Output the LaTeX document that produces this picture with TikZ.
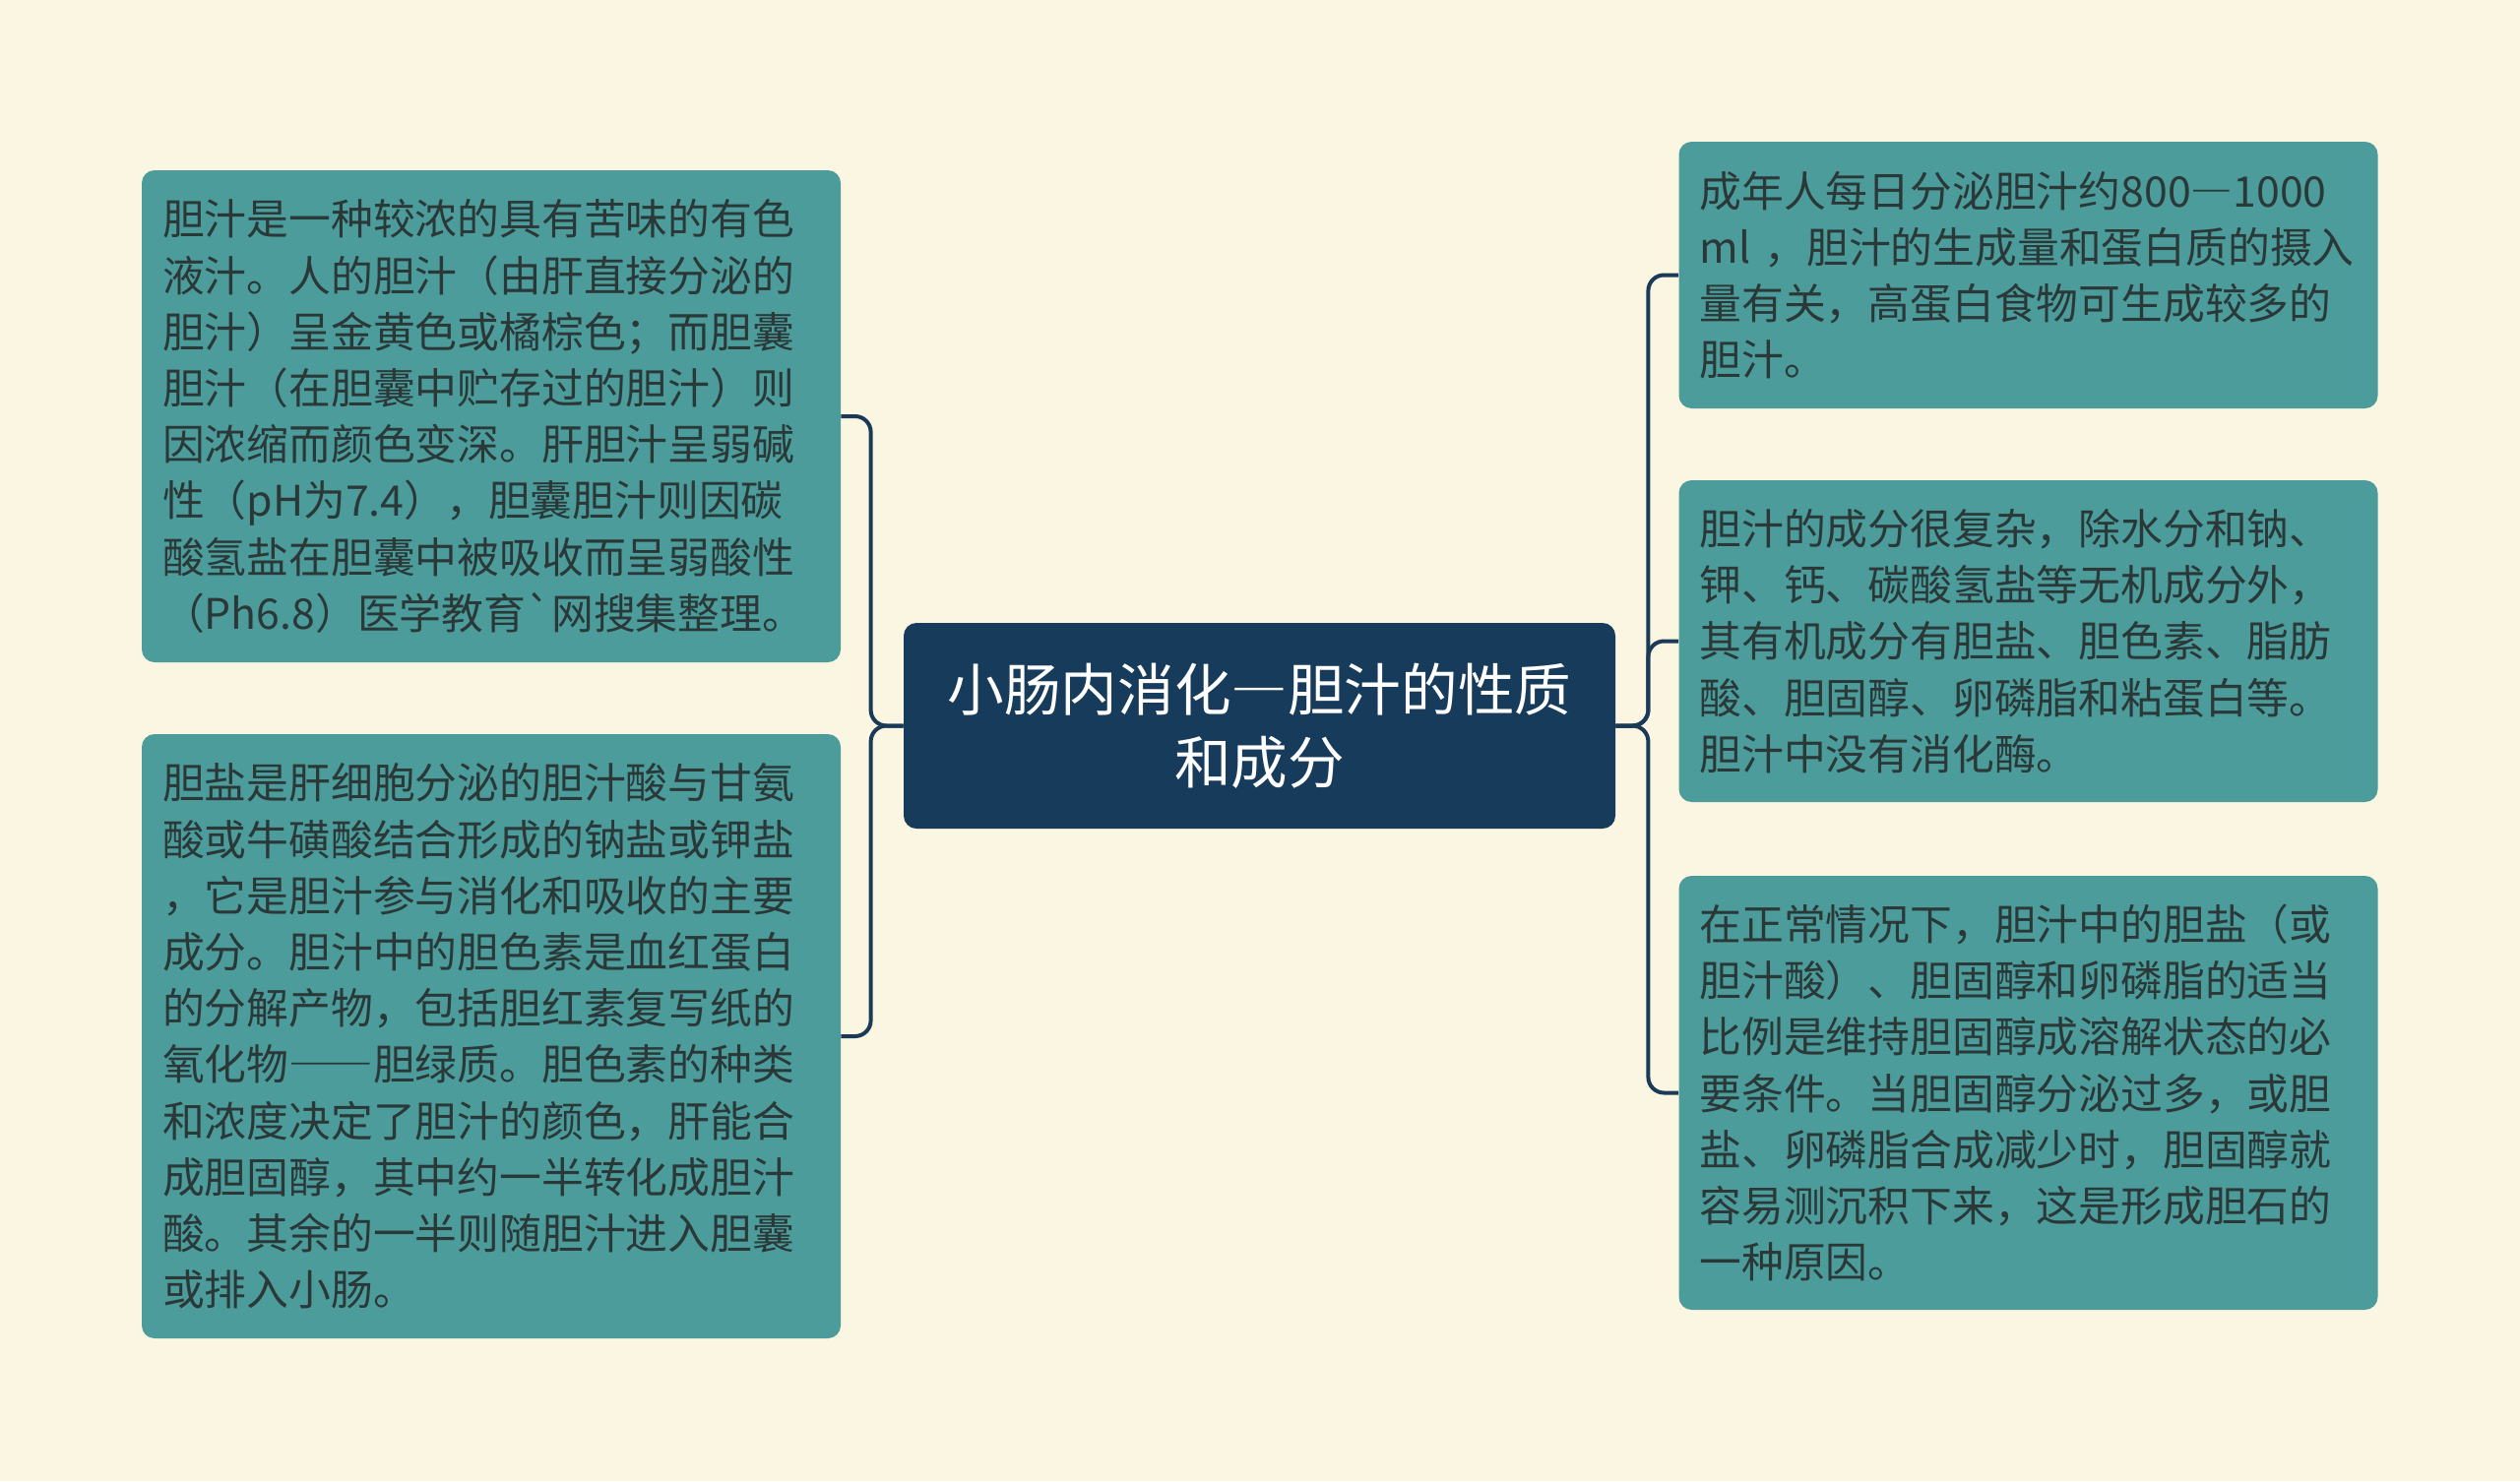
\documentclass[tikz,border=0pt]{standalone}
\usepackage{fontspec}
\setmainfont{Noto Sans CJK SC}
\newfontfamily\plainfont{Noto Sans CJK SC}
\definecolor{bgc}{HTML}{FBF6E1}
\definecolor{leafc}{HTML}{4C9C9C}
\definecolor{leaftext}{HTML}{2B3838}
\definecolor{rootc}{HTML}{173B5B}
\definecolor{connc}{HTML}{1A3A58}
\newcommand{\fwdash}{{\addfontfeatures{CharacterWidth=Full}—}}
\newcommand{\bqt}{{\plainfont\symbol{"60}}}
\begin{document}
\begin{tikzpicture}[x=0.5pt,y=-0.5pt,
  leaf/.style={rectangle, rounded corners=6.5pt, fill=leafc, text=leaftext,
    font=\fontsize{21.4pt}{28.6pt}\selectfont, align=left,
    inner xsep=10.5pt, inner ysep=0pt, text width=334pt},
  root/.style={rectangle, rounded corners=6.5pt, fill=rootc, text=white,
    font=\fontsize{28.8pt}{36.7pt}\selectfont, align=center,
    minimum width=361.5pt, minimum height=104.5pt, inner sep=0pt},
  conn/.style={draw=connc, line width=2pt, rounded corners=8pt}]
\fill[bgc] (0,0) rectangle (2560,1505);
\useasboundingbox (0,0) rectangle (2560,1505);

\node[root] (c) at (1279.5,737.5) {小肠内消化\fwdash 胆汁的性质\\和成分};

\node[leaf, minimum height=250pt] (l1) at (499,423) {胆汁是一种较浓的具有苦味的有色\\液汁。人的胆汁（由肝直接分泌的\\胆汁）呈金黄色或橘棕色；而胆囊\\胆汁（在胆囊中贮存过的胆汁）则\\因浓缩而颜色变深。肝胆汁呈弱碱\\性（pH为7.4），胆囊胆汁则因碳\\酸氢盐在胆囊中被吸收而呈弱酸性\\（Ph6.8）医学教育\bqt 网搜集整理。};

\node[leaf, minimum height=307pt] (l2) at (499,1053) {胆盐是肝细胞分泌的胆汁酸与甘氨\\酸或牛磺酸结合形成的钠盐或钾盐\\，它是胆汁参与消化和吸收的主要\\成分。胆汁中的胆色素是血红蛋白\\的分解产物，包括胆红素复写纸的\\氧化物\fwdash\fwdash 胆绿质。胆色素的种类\\和浓度决定了胆汁的颜色，肝能合\\成胆固醇，其中约一半转化成胆汁\\酸。其余的一半则随胆汁进入胆囊\\或排入小肠。};

\node[leaf, minimum height=135.5pt] (r1) at (2060.5,279.5) {成年人每日分泌胆汁约800\fwdash 1000\\ml ，胆汁的生成量和蛋白质的摄入\\量有关，高蛋白食物可生成较多的\\胆汁。};

\node[leaf, minimum height=163.5pt] (r2) at (2060.5,651.5) {胆汁的成分很复杂，除水分和钠、\\钾、钙、碳酸氢盐等无机成分外，\\其有机成分有胆盐、胆色素、脂肪\\酸、胆固醇、卵磷脂和粘蛋白等。\\胆汁中没有消化酶。};

\node[leaf, minimum height=220.5pt] (r3) at (2060.5,1110.5) {在正常情况下，胆汁中的胆盐（或\\胆汁酸）、胆固醇和卵磷脂的适当\\比例是维持胆固醇成溶解状态的必\\要条件。当胆固醇分泌过多，或胆\\盐、卵磷脂合成减少时，胆固醇就\\容易测沉积下来，这是形成胆石的\\一种原因。};

\draw[conn] (c.west) -- ++(-33,0) |- (l1.east);
\draw[conn] (c.west) -- ++(-33,0) |- (l2.east);
\draw[conn] (c.east) -- ++(33,0) |- (r1.west);
\draw[conn] (c.east) -- ++(33,0) |- (r2.west);
\draw[conn] (c.east) -- ++(33,0) |- (r3.west);
\end{tikzpicture}
\end{document}
